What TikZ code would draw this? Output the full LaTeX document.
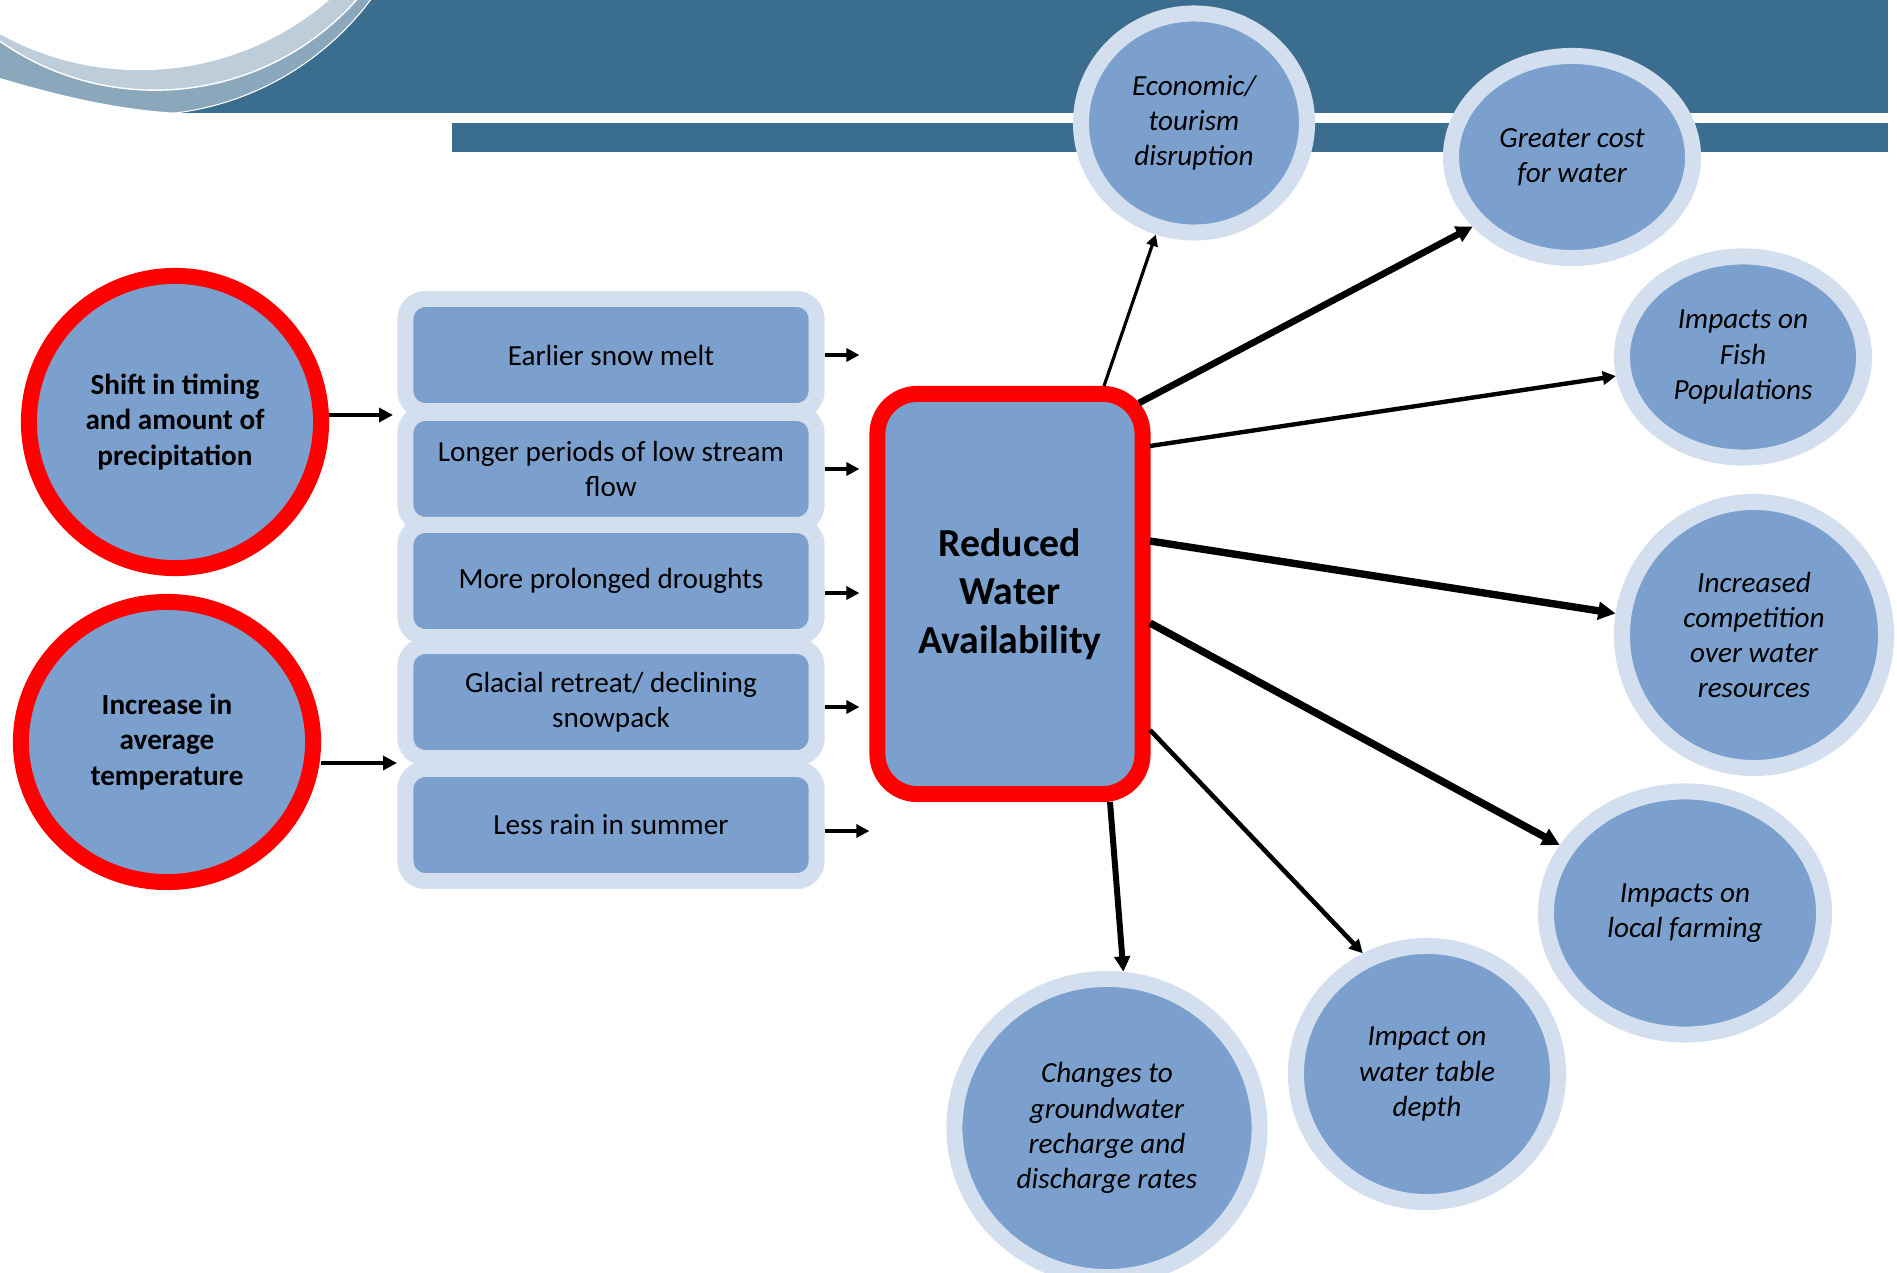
\documentclass[tikz,border=0pt]{standalone}
\usepackage{fontspec}
\setmainfont{Carlito}
\usepackage{tikz}
\usetikzlibrary{shapes.geometric,arrows.meta,calc}
\definecolor{banner}{HTML}{3A6D8E}
\definecolor{swooshlight}{HTML}{BDCEDA}
\definecolor{swooshdark}{HTML}{8AA7BC}
\definecolor{fillblue}{HTML}{7BA0CD}
\definecolor{ringblue}{HTML}{D3DFEE}
\definecolor{alertred}{HTML}{FF0000}
\tikzstyle{connector} = [line width=1.2pt,-{Triangle[length=2pt 1.4,width=2pt 1.4]}]
\tikzstyle{cause} = [ellipse, draw=alertred, fill=fillblue, line width=1.6mm, inner sep=0pt, align=center, font=\fontsize{8.3}{10}\selectfont\bfseries]
\tikzstyle{effect} = [rectangle, rounded corners=2mm, draw=ringblue, fill=fillblue, line width=1.6mm, minimum width=41.1mm, minimum height=11.2mm, inner sep=0pt, align=center, font=\fontsize{8.3}{10}\selectfont]
\tikzstyle{impact} = [ellipse, draw=ringblue, fill=fillblue, line width=1.6mm, inner sep=0pt, align=center, font=\fontsize{8.3}{10}\selectfont\itshape]

\begin{document}
\begin{tikzpicture}[x=0.01cm, y=-0.01cm]
        \useasboundingbox (0,0) rectangle (1897,1273);
        \begin{scope}
            \clip (0,0) rectangle (1888,113);
            \fill [banner] (0,0) rectangle (1888,113);
            \fill [swooshdark, draw=white, line width=0.3pt] (140,-173) circle [radius=2.88cm];
            \fill [white] (0,78) .. controls (60,96) and (120,110) .. (180,113) -- (0,113) -- cycle;
            \fill [swooshlight, draw=white, line width=0.4pt] (155,-180) circle [radius=2.7cm];
            \fill [white] (140,-220) circle [radius=2.9cm];
        \end{scope}
        \fill [banner] (452,123) rectangle (1888,152);

        \node (shift) [cause, minimum width=29.2mm, minimum height=29.2mm] at (175,422) {Shift in timing\\and amount of\\precipitation};
        \node (increase) [cause, minimum width=29.2mm, minimum height=28mm] at (167,742) {Increase in\\average\\temperature};

        \node (snow) [effect] at (611,355) {Earlier snow melt};
        \node (lowflow) [effect] at (611,469) {Longer periods of low stream\\flow};
        \node (drought) [effect] at (611,581) {More prolonged droughts};
        \node (glacial) [effect] at (611,702) {Glacial retreat/ declining\\snowpack};
        \node (rain) [effect] at (611,825) {Less rain in summer};

        \node (reduced) [rectangle, rounded corners=4mm, draw=alertred, fill=fillblue, line width=1.6mm, minimum width=26.5mm, minimum height=40mm, align=center, font=\fontsize{11.3}{13.7}\selectfont\bfseries] at (1010,594) {Reduced\\Water\\Availability};

        \node (economic) [impact, minimum width=22.6mm, minimum height=21.9mm] at (1194,123) {Economic/\\tourism\\disruption};
        \node (cost) [impact, minimum width=24.2mm, minimum height=20.2mm] at (1572,157) {Greater cost\\for water};
        \node (fish) [impact, minimum width=24.2mm, minimum height=20.1mm] at (1743,357) {Impacts on\\Fish\\Populations};
        \node (competition) [impact, minimum width=26.4mm, minimum height=26.6mm] at (1754,635) {Increased\\competition\\over water\\resources};
        \node (farming) [impact, minimum width=27.8mm, minimum height=24.3mm] at (1685,913) {Impacts on\\local farming};
        \node (watertable) [impact, minimum width=26.2mm, minimum height=25.6mm] at (1427,1074) {Impact on\\water table\\depth};
        \node (groundwater) [impact, minimum width=30.5mm, minimum height=29.8mm] at (1107,1128) {Changes to\\groundwater\\recharge and\\discharge rates};

        \coordinate (in-shift) at (393,415);
        \coordinate (in-increase) at (397,763);
        \draw [connector, line width=1.4pt] (shift.east |- in-shift) -- (in-shift);
        \draw [connector, line width=1.4pt] (increase.east |- in-increase) -- (in-increase);

        \foreach \src/\dy/\gap in {snow/0/1, lowflow/0/1, drought/-1.2/1, glacial/-0.5/1, rain/-0.6/0} {
            \coordinate (out) at ([yshift=\dy mm]\src.east);
            \draw [connector, shorten >=\gap mm] (out) -- (out -| reduced.west);
        }

        \draw [connector, line width=0.9pt] ($(reduced.center)+(94,-208)$) -- (economic);
        \draw [connector, line width=1.9pt] ($(reduced.center)+(129,-191)$) -- (cost.215.8);
        \draw [connector, line width=1.25pt] ($(reduced.center)+(140,-148)$) -- (fish);
        \draw [connector, line width=2.1pt] ($(reduced.center)+(140,-53)$) -- (competition);
        \draw [connector, line width=2.1pt] ($(reduced.center)+(140,29)$) -- (farming);
        \draw [connector, line width=1.3pt] ($(reduced.center)+(140,136)$) -- (watertable.118.6);
        \draw [connector, line width=1.7pt] ($(reduced.center)+(100,208)$) -- (groundwater.84.4);
    \end{tikzpicture}
\end{document}
